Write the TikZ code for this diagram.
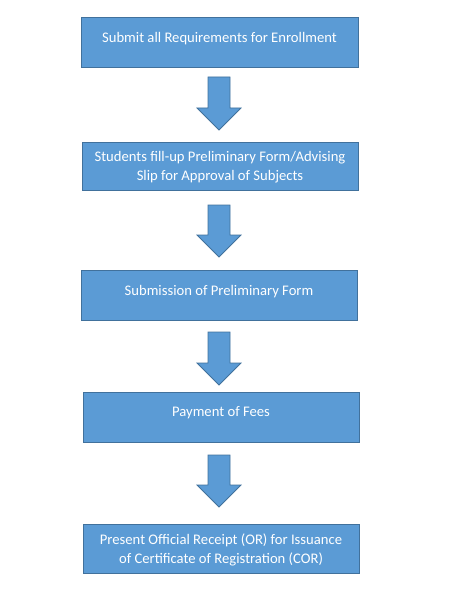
\documentclass[tikz,border=0pt]{standalone}
\usepackage{fontspec}
\setmainfont{Carlito}
\usetikzlibrary{calc}
\definecolor{boxblue}{HTML}{5B9BD5}
\definecolor{boxedge}{HTML}{41719C}
\begin{document}
\begin{tikzpicture}[x=1bp,y=-1bp,
  stepbox/.style={draw=boxedge, fill=boxblue, line width=0.8bp,
    minimum width=276bp, minimum height=50bp, inner sep=0pt},
  steptext/.style={text=white, font=\fontsize{14.7}{19}\selectfont,
    align=center, inner sep=0pt},
  blockarrow/.style={draw=boxedge, fill=boxblue, line width=0.8bp, line join=miter,
    to path={($(\tikztostart)+(-11,0)$) -- ($(\tikztotarget)+(-11,-22)$)
      -- ($(\tikztotarget)+(-22,-22)$) -- (\tikztotarget)
      -- ($(\tikztotarget)+(22,-22)$) -- ($(\tikztotarget)+(11,-22)$)
      -- ($(\tikztostart)+(11,0)$) -- cycle}}]
\useasboundingbox (0,0) rectangle (451,598);

% process steps
\node[stepbox, minimum width=277bp] (b1) at (219.5,42) {};
\node[stepbox, minimum height=48bp] (b2) at (220,166) {};
\node[stepbox] (b3) at (219,295) {};
\node[stepbox] (b4) at (221,417) {};
\node[stepbox, minimum height=49bp] (b5) at (221,548.5) {};

\node[steptext] (t1) at ($(b1.center)+(0,-3)$) {Submit all Requirements for Enrollment};
\node[steptext] (t2) at ($(b2.center)+(0,1.5)$) {Students fill-up Preliminary Form/Advising\\Slip for Approval of Subjects};
\node[steptext] (t3) at ($(b3.center)+(0,-3)$) {Submission of Preliminary Form};
\node[steptext] (t4) at ($(b4.center)+(0,-4)$) {Payment of Fees};
\node[steptext] (t5) at ($(b5.center)+(0,1.5)$) {Present Official Receipt (OR) for Issuance\\of Certificate of Registration (COR)};

% block arrows between the steps
\coordinate (a1s) at (219,77);  \coordinate (a1t) at (219,130);
\coordinate (a2s) at (219,205); \coordinate (a2t) at (219,257);
\coordinate (a3s) at (219,332); \coordinate (a3t) at (219,385);
\coordinate (a4s) at (219,455); \coordinate (a4t) at (219,507);
\path[blockarrow] (a1s) to (a1t);
\path[blockarrow] (a2s) to (a2t);
\path[blockarrow] (a3s) to (a3t);
\path[blockarrow] (a4s) to (a4t);
\end{tikzpicture}
\end{document}
